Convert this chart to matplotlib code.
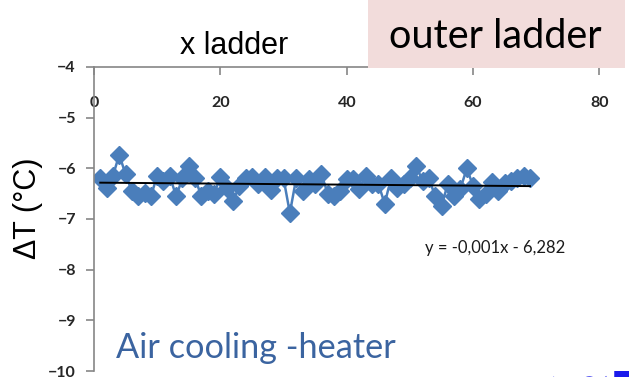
import matplotlib
matplotlib.use('Agg')
import matplotlib.pyplot as plt
import numpy as np

# position along the ladder and measured temperature difference
x_pos = np.arange(1, 70)
delta_t = [-6.19, -6.39, -6.15, -5.73, -6.12, -6.45, -6.55, -6.48, -6.55, -6.15,
           -6.25, -6.15, -6.55, -6.20, -5.95, -6.20, -6.55, -6.45, -6.50, -6.18,
           -6.38, -6.65, -6.35, -6.20, -6.18, -6.30, -6.18, -6.42, -6.20, -6.20,
           -6.88, -6.20, -6.45, -6.22, -6.30, -6.12, -6.50, -6.55, -6.45, -6.22,
           -6.22, -6.40, -6.15, -6.30, -6.30, -6.70, -6.20, -6.38, -6.30, -6.20,
           -5.95, -6.25, -6.20, -6.55, -6.75, -6.30, -6.55, -6.40, -6.00, -6.35,
           -6.60, -6.50, -6.27, -6.45, -6.28, -6.25, -6.20, -6.15, -6.20]

# linear trend from the chart label
trend_slope = -0.001
trend_intercept = -6.282

x_ticks = [0, 20, 40, 60, 80]
y_ticks = [-4, -5, -6, -7, -8, -9, -10]

blue = '#4a7ebb'
grey = '#868686'

fig = plt.figure(figsize=(6.29, 3.77), dpi=100)
ax = fig.add_axes([0.1494, 0.0159, 0.8037, 0.8064])

ax.plot(x_pos, delta_t, color=blue, lw=1.8, marker='D', markersize=9.5,
        markeredgecolor=blue, markerfacecolor=blue, zorder=2)
trend = trend_intercept + trend_slope * x_pos
ax.plot(x_pos, trend, color='black', lw=1.4, zorder=3)

ax.set_xlim(0, 80)
ax.set_ylim(-10, -4)
ax.set_xticks(x_ticks)
ax.set_yticks(y_ticks)

for side in ['right', 'bottom']:
    ax.spines[side].set_visible(False)
for side in ['left', 'top']:
    ax.spines[side].set_color(grey)
    ax.spines[side].set_linewidth(1.2)

ax.tick_params(axis='x', top=True, bottom=False, labeltop=True, labelbottom=False,
               direction='in', length=6, color=grey, width=1.2, pad=-31,
               labelsize=11.5, labelcolor='#262626')
ax.tick_params(axis='y', direction='out', length=6, color=grey, width=1.2,
               labelsize=11.5, labelcolor='#262626', pad=7)
for lab in ax.get_xticklabels() + ax.get_yticklabels():
    lab.set_fontfamily('Lato')
    lab.set_fontweight('bold')

fig.text(495 / 629, 1 - 248 / 377, 'y = -0,001x - 6,282', ha='center', va='center',
         fontsize=12, family='Lato', color='#1a1a1a')

fig.text(234 / 629, 1 - 46 / 377, 'x ladder', ha='center', va='center',
         fontsize=22, family='Liberation Sans')
fig.text(28 / 629, 1 - 208 / 377, 'ΔT (°C)', ha='center', va='center',
         rotation=90, fontsize=22, family='Liberation Sans')

fig.patches.append(plt.Rectangle((368 / 629, 1 - 68 / 377), 257 / 629, 68 / 377,
                                 transform=fig.transFigure, facecolor='#f2dcdb',
                                 edgecolor='none', zorder=0))
fig.text(495 / 629, 1 - 36 / 377, 'outer ladder', ha='center', va='center',
         fontsize=28.5, family='Lato')

fig.text(256 / 629, 1 - 348 / 377, 'Air cooling -heater', ha='center', va='center',
         fontsize=24.7, family='Lato', color='#3b64a0')

# top edge of a cut-off caption below the picture
for gx, gy, glyph in [(549, 400, '>'), (578, 395, '≈'), (614, 400, 'T')]:
    fig.text(gx / 629, 1 - gy / 377, glyph, ha='left', va='baseline',
             fontsize=28, fontweight='bold', color='#1a1aeb', family='DejaVu Sans')

fig.savefig('out.png', dpi=100)
